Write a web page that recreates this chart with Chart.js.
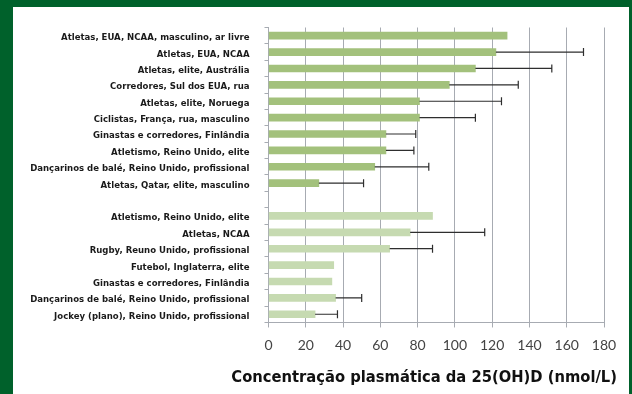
<!DOCTYPE html>
<html>
<head>
<meta charset="utf-8">
<script src="https://cdn.jsdelivr.net/npm/chart.js@4/dist/chart.umd.min.js"></script>
<style>
  html, body { margin: 0; padding: 0; background: #00612b; }
  #wrap { position: relative; width: 632px; height: 394px; overflow: hidden; background: #00612b; }
  #inner { position: absolute; left: 13px; top: 7px; width: 616px; height: 387px; background: #ffffff; }
  #c { position: absolute; left: 0; top: 0; }
</style>
</head>
<body>
<div id="wrap">
  <div id="inner"></div>
  <canvas id="c" width="632" height="394"></canvas>
</div>
<script>
// ---- data ----
const topLabels = [
  "Atletas, EUA, NCAA, masculino, ar livre",
  "Atletas, EUA, NCAA",
  "Atletas, elite, Austrália",
  "Corredores, Sul dos EUA, rua",
  "Atletas, elite, Noruega",
  "Ciclistas, França, rua, masculino",
  "Ginastas e corredores, Finlândia",
  "Atletismo, Reino Unido, elite",
  "Dançarinos de balé, Reino Unido, profissional",
  "Atletas, Qatar, elite, masculino"
];
const topValues = [128, 122, 111, 97, 81, 81, 63, 63, 57, 27];
const topUpper  = [null, 169, 152, 134, 125, 111, 79, 78, 86, 51];

const bottomLabels = [
  "Atletismo, Reino Unido, elite",
  "Atletas, NCAA",
  "Rugby, Reuno Unido, profissional",
  "Futebol, Inglaterra, elite",
  "Ginastas e corredores, Finlândia",
  "Dançarinos de balé, Reino Unido, profissional",
  "Jockey (plano), Reino Unido, profissional"
];
const bottomValues = [88, 76, 65, 35, 34, 36, 25];
const bottomUpper  = [null, 116, 88, null, null, 50, 37];

const xTicks = [0, 20, 40, 60, 80, 100, 120, 140, 160, 180];
const axisTitle = "Concentração plasmática da 25(OH)D (nmol/L)";

// ---- combined ----
const labels = [...topLabels, "", ...bottomLabels];
const values = [...topValues, null, ...bottomValues];
const uppers = [...topUpper, null, ...bottomUpper];
const colors = [...topValues.map(() => "#a3c17c"), "#ffffff", ...bottomValues.map(() => "#c6dab1")];

const errorBars = {
  id: "errorBars",
  afterDatasetsDraw(chart) {
    const ctx = chart.ctx;
    const xs = chart.scales.x;
    const meta = chart.getDatasetMeta(0);
    ctx.save();
    ctx.strokeStyle = "#2e2e2e";
    ctx.lineWidth = 1.2;
    uppers.forEach((u, i) => {
      if (u == null || values[i] == null) return;
      const bar = meta.data[i];
      const y = bar.y;
      const x0 = xs.getPixelForValue(values[i]);
      const x1 = xs.getPixelForValue(u);
      ctx.beginPath();
      ctx.moveTo(x0, y);
      ctx.lineTo(x1, y);
      ctx.moveTo(x1, y - 4);
      ctx.lineTo(x1, y + 4);
      ctx.stroke();
    });
    ctx.restore();
  }
};

const condensed = "'Liberation Sans Narrow', 'DejaVu Sans Condensed', sans-serif";

new Chart(document.getElementById("c"), {
  type: "bar",
  data: {
    labels: labels,
    datasets: [{
      data: values,
      backgroundColor: colors,
      barThickness: 7,
      borderWidth: 0
    }]
  },
  options: {
    indexAxis: "y",
    responsive: false,
    animation: false,
    devicePixelRatio: 1,
    layout: { padding: { left: 0, right: 15, top: 27.5, bottom: 7.5 } },
    plugins: {
      legend: { display: false },
      tooltip: { enabled: false },
      title: {
        display: true,
        position: "bottom",
        align: "end",
        text: axisTitle,
        color: "#111111",
        padding: 0,
        font: { family: condensed, size: 16.4, weight: "bold", lineHeight: 1.1 }
      }
    },
    scales: {
      x: {
        min: 0,
        max: 180,
        afterBuildTicks(scale) { scale.ticks = xTicks.map(v => ({ value: v })); },
        afterFit(scale) { scale.height = 46; },
        ticks: {
          color: "#444444",
          padding: 9.5,
          font: { family: "Lato, 'Open Sans', sans-serif", size: 14 }
        },
        grid: { color: "#a7abb2", lineWidth: 1, tickLength: 5, drawTicks: true },
        border: { color: "#a7abb2", width: 1 }
      },
      y: {
        afterFit(scale) { scale.width = 268.5; },
        ticks: {
          autoSkip: false,
          color: "#1a1a1a",
          padding: 15,
          labelOffset: 2,
          font: { family: condensed, size: 9.5, weight: "bold" }
        },
        grid: { drawOnChartArea: false, color: "#a7abb2", tickLength: 4, offset: true },
        border: { color: "#a7abb2", width: 1 }
      },
      yRight: {
        type: "linear",
        position: "right",
        min: 0,
        max: 1,
        afterFit(scale) { scale.width = 13; },
        ticks: { display: false },
        grid: { display: false, drawTicks: false },
        border: { display: false }
      }
    }
  },
  plugins: [errorBars]
});
</script>
</body>
</html>
